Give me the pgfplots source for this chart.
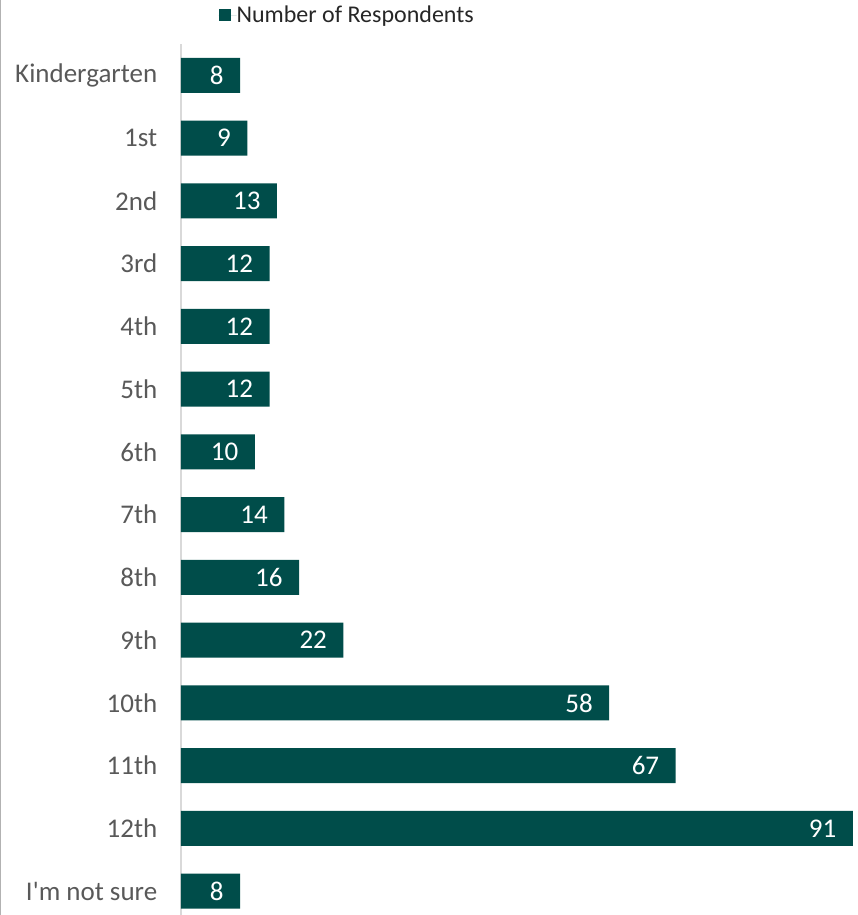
\documentclass[border=0pt]{standalone}
\usepackage{pgfplots}
\pgfplotsset{compat=1.18}
\usepackage{fontspec}
\setmainfont{Carlito}
\definecolor{barc}{HTML}{004D4A}
\definecolor{tickc}{HTML}{595959}
\definecolor{axc}{HTML}{D9D9D9}
\definecolor{legc}{HTML}{262626}
\begin{document}
\begin{tikzpicture}
\begin{axis}[
  name=ax,
  scale only axis, width=677bp, height=871bp,
  xbar, bar width=35bp,
  xmin=0, xmax=91.7,
  ymin=-0.5, ymax=13.38, y dir=reverse,
  /pgf/number format/assume math mode=true,
  ytick={0,...,13},
  yticklabels={Kindergarten,1st,2nd,3rd,4th,5th,6th,7th,8th,9th,10th,11th,12th,I\textquotesingle m not sure},
  yticklabel style={font=\fontsize{27bp}{31bp}\selectfont, text=tickc},
  y tick label style={xshift=-16bp},
  axis x line=none,
  axis y line*=left,
  y axis line style={draw=axc, line width=1.5bp, -},
  ytick style={draw=none},
  nodes near coords,
  every node near coord/.append style={anchor=east, xshift=-13bp, text=white, font=\fontsize{27bp}{31bp}\selectfont},
  legend style={at={(axis description cs:0.244,1)}, anchor=center, yshift=29bp, draw=none, fill=none,
    font=\fontsize{24bp}{28bp}\selectfont, text=legc, inner sep=0pt, nodes={inner sep=0pt}},
  legend image code/.code={\fill[barc] (0bp,-6bp) rectangle (12bp,6bp); \path (0bp,0bp) -- (18bp,0bp);},
]
\addplot[fill=barc, draw=none] coordinates {
 (8,0) (9,1) (13,2) (12,3) (12,4) (12,5) (10,6) (14,7) (16,8) (22,9) (58,10) (67,11) (91,12) (8,13)};
\addlegendentry{Number of Respondents}
\end{axis}
\draw[gray!60, line width=1bp] ([xshift=-180.5bp]ax.south west) -- ([xshift=-180.5bp, yshift=44bp]ax.north west);
\pgfresetboundingbox
\path ([xshift=-181bp]ax.south west) rectangle ([yshift=44bp]ax.north east);
\end{tikzpicture}
\end{document}
